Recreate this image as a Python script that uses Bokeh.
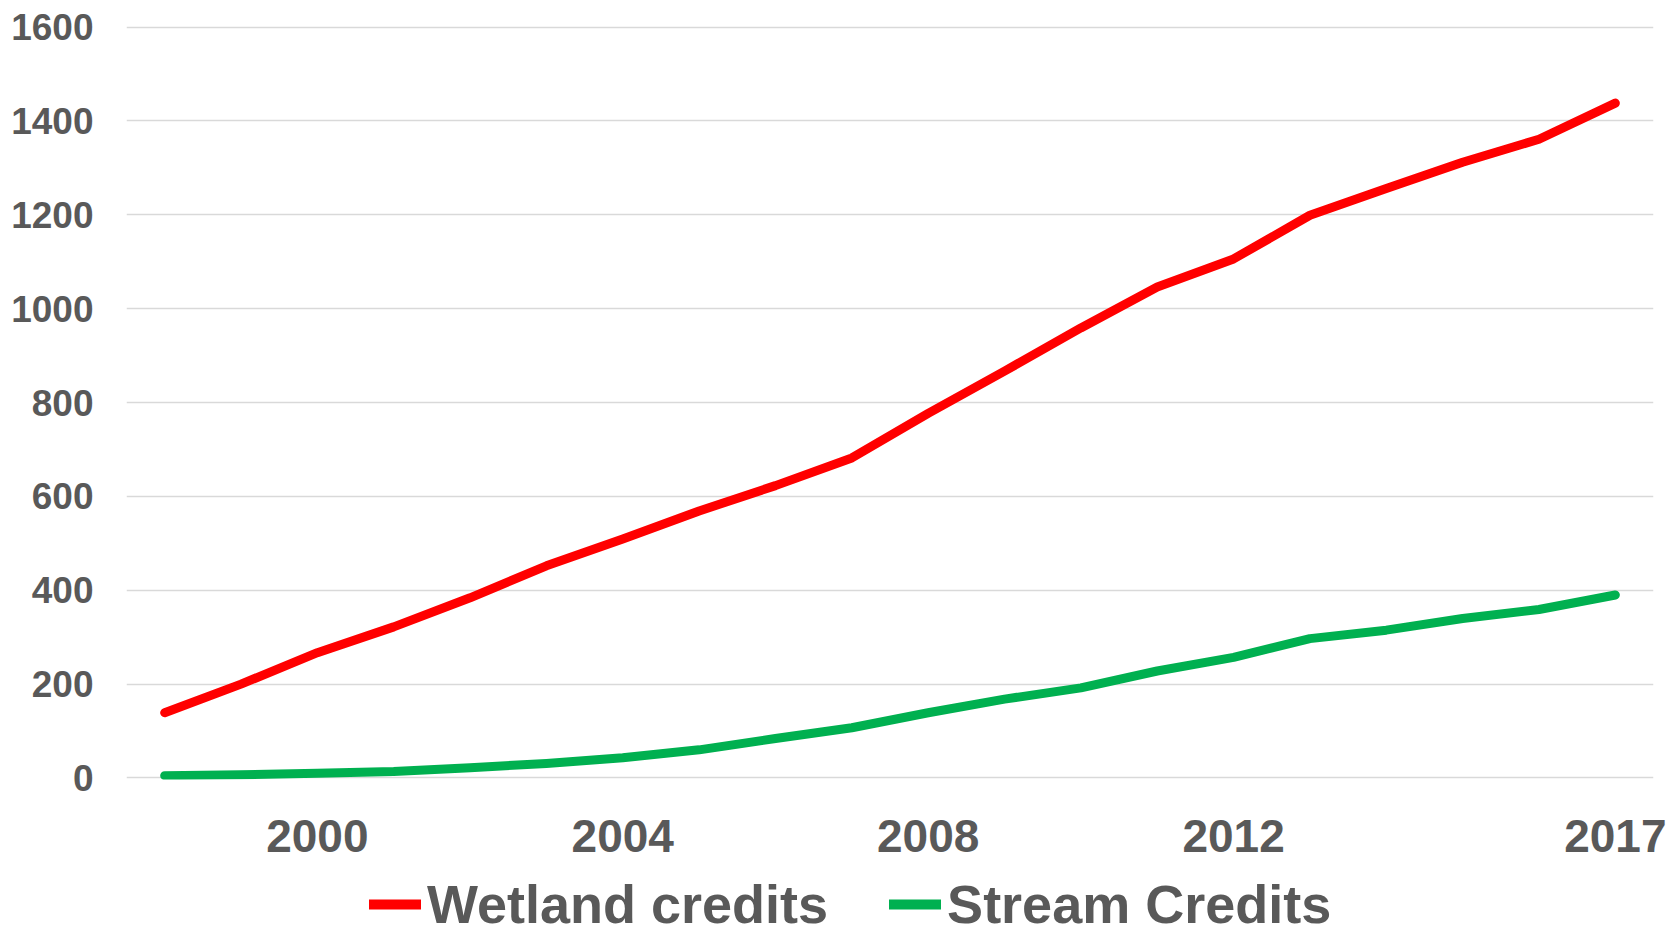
from bokeh.plotting import figure
from bokeh.models import FixedTicker, Legend, LegendItem, Range1d
from bokeh.layouts import column
from bokeh.embed import file_html
from bokeh.resources import INLINE

years = list(range(1998, 2018))
wetland = [139, 200, 267, 322, 384, 452, 509, 569, 623, 682, 777, 867, 959, 1046, 1106, 1199, 1256, 1312, 1361, 1438]
stream = [5, 7, 10, 14, 22, 31, 43, 60, 84, 107, 139, 168, 192, 228, 257, 297, 315, 340, 359, 390]
x_ticks = [2000, 2004, 2008, 2012, 2017]
y_ticks = [0, 200, 400, 600, 800, 1000, 1200, 1400, 1600]
series_names = ["Wetland credits", "Stream Credits"]
series_colors = ["#FF0000", "#00B050"]

FONT = "Liberation Sans"
TEXT = "#595959"
LW = 9

p = figure(width=1670, height=868, output_backend="svg", toolbar_location=None,
           x_range=Range1d(1997.5, 2017.5), y_range=Range1d(-3.2, 1605.5),
           min_border_left=126, min_border_right=17, min_border_top=24, min_border_bottom=89)
p.outline_line_color = None
p.background_fill_color = "white"
p.border_fill_color = "white"

r1 = p.line(years, wetland, line_color=series_colors[0], line_width=LW, line_cap="round", line_join="round")
r2 = p.line(years, stream, line_color=series_colors[1], line_width=LW, line_cap="round", line_join="round")

p.xgrid.grid_line_color = None
p.ygrid.grid_line_color = "#D9D9D9"
p.ygrid.grid_line_width = 1.5
p.ygrid.ticker = FixedTicker(ticks=y_ticks)

p.xaxis.ticker = FixedTicker(ticks=x_ticks)
p.yaxis.ticker = FixedTicker(ticks=y_ticks)
for ax in (p.xaxis[0], p.yaxis[0]):
    ax.axis_line_color = None
    ax.major_tick_line_color = None
    ax.minor_tick_line_color = None
    ax.major_tick_out = 0
    ax.major_tick_in = 0
    ax.major_label_text_font = FONT
    ax.major_label_text_font_style = "bold"
    ax.major_label_text_color = TEXT
p.xaxis.major_label_standoff = 40
p.yaxis.major_label_standoff = 33
p.xaxis.major_label_text_font_size = "46px"
p.yaxis.major_label_text_font_size = "37px"

# legend strip below the chart (its series lie outside this strip's ranges,
# so only the legend samples are visible)
lg = figure(width=1670, height=67, output_backend="svg", toolbar_location=None,
            x_range=Range1d(0, 1), y_range=Range1d(0, 1),
            x_axis_type=None, y_axis_type=None,
            min_border_left=0, min_border_right=0, min_border_top=0, min_border_bottom=0)
lg.outline_line_color = None
lg.xgrid.grid_line_color = None
lg.ygrid.grid_line_color = None
l1 = lg.line(years, wetland, line_color=series_colors[0], line_width=10, line_cap="round")
l2 = lg.line(years, stream, line_color=series_colors[1], line_width=10, line_cap="round")

legend = Legend(items=[LegendItem(label=series_names[0], renderers=[l1]),
                       LegendItem(label=series_names[1], renderers=[l2])],
                orientation="horizontal", location=(243, 0), padding=0, margin=0,
                spacing=61, glyph_width=52, glyph_height=40, label_standoff=6,
                label_text_font=FONT, label_text_font_style="bold",
                label_text_font_size="54px", label_text_color=TEXT,
                border_line_color=None, background_fill_alpha=0)
lg.add_layout(legend, "center")

open("out.html", "w").write(file_html(column(p, lg, spacing=0), INLINE))
